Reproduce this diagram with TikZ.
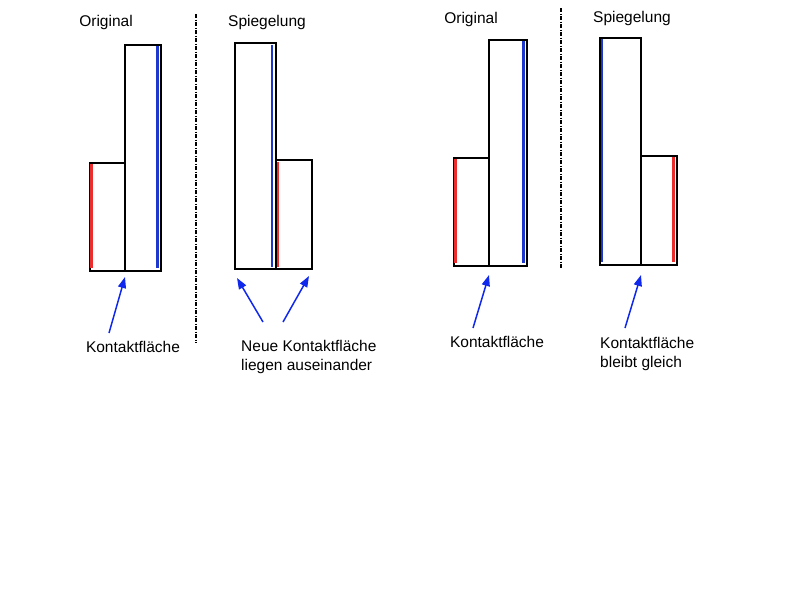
\documentclass[tikz,border=0pt]{standalone}
\usepackage{fontspec}
\setmainfont{Liberation Sans}
\usetikzlibrary{arrows.meta}
\definecolor{stripeRed}{RGB}{235,45,45}
\definecolor{stripeBlue}{RGB}{30,55,205}
\definecolor{arrowBlue}{RGB}{15,40,235}

\begin{document}
\begin{tikzpicture}
[x=1pt,y=-1pt,
  barDecorate/.style={draw,line width=2.4pt,inner sep=0pt,anchor=north west},%
  stripeDecorate/.style={line width=2.3pt},%
  arrowDecorate/.style={-{Triangle[length=11pt,width=8pt]},line width=1.5pt,arrowBlue},%
  axisDecorate/.style={line width=1.5pt,dash pattern=on 4pt off 1.5pt on 1pt off 1.5pt},%
  labelDecorate/.style={inner sep=0pt,font=\fontsize{15.5}{19}\selectfont}]
\useasboundingbox (0,0) rectangle (800,600);
%% bars
\foreach \boxname/\x/\y/\w/\h in {
  %% first example
  o1s/89/162/35/108, o1t/124/44/36/226, s1t/234/42/41/226, s1s/275/159/36/109,
  %% second example
  o2s/453/157/35/108, o2t/488/39/38/226, s2t/599/37/41/227, s2s/640/155/36/109}
{
  \node (\boxname) at (\x,\y) [barDecorate,minimum width=\w pt,minimum height=\h pt] {};
}
%% contact stripes
\foreach \col/\x/\ya/\yb in {
  stripeRed/91.5/164/268, stripeBlue/157.5/46/268, stripeBlue/272/45/267,
  stripeRed/278/162/267, stripeRed/455.5/159/263, stripeBlue/523.5/41/263,
  stripeBlue/602/39/262, stripeRed/673.5/157/262}
{
  \draw[stripeDecorate,\col] (\x,\ya) -- (\x,\yb);
}
%% mirror axes
\draw[axisDecorate] (196,14) -- (196,343);
\draw[axisDecorate] (561,8) -- (561,268);
%% labels
\node[labelDecorate] (origA) at (106,22) {Original};
\node[labelDecorate] (spiegA) at (267,22) {Spiegelung};
\node[labelDecorate] (origB) at (471,19) {Original};
\node[labelDecorate] (spiegB) at (632,18) {Spiegelung};
\node[labelDecorate] (kontaktA) at (133,347) {Kontaktfläche};
\node[labelDecorate,align=left,anchor=north west] (neueA) at (241,340.5)
  {Neue Kontaktfläche\\liegen auseinander};
\node[labelDecorate] (kontaktB) at (497,342) {Kontaktfläche};
\node[labelDecorate,align=left,anchor=north west] (gleichB) at (600,336.6)
  {Kontaktfläche\\bleibt gleich};
%% arrow ends
\foreach \pname/\x/\y in {
  tailA1/109/333, tipA1/125/277, tailA2/263/322, tipA2/237/278,
  tailA3/283/322, tipA3/309/276, tailB1/473/328, tipB1/489/275,
  tailB2/625/328, tipB2/641/275}
{
  \coordinate (\pname) at (\x,\y);
}
\path
\foreach \startnode/\endnode in {
  tailA1/tipA1, tailA2/tipA2, tailA3/tipA3, tailB1/tipB1, tailB2/tipB2}
{
  (\startnode) edge[arrowDecorate] (\endnode)
};
\end{tikzpicture}
\end{document}
